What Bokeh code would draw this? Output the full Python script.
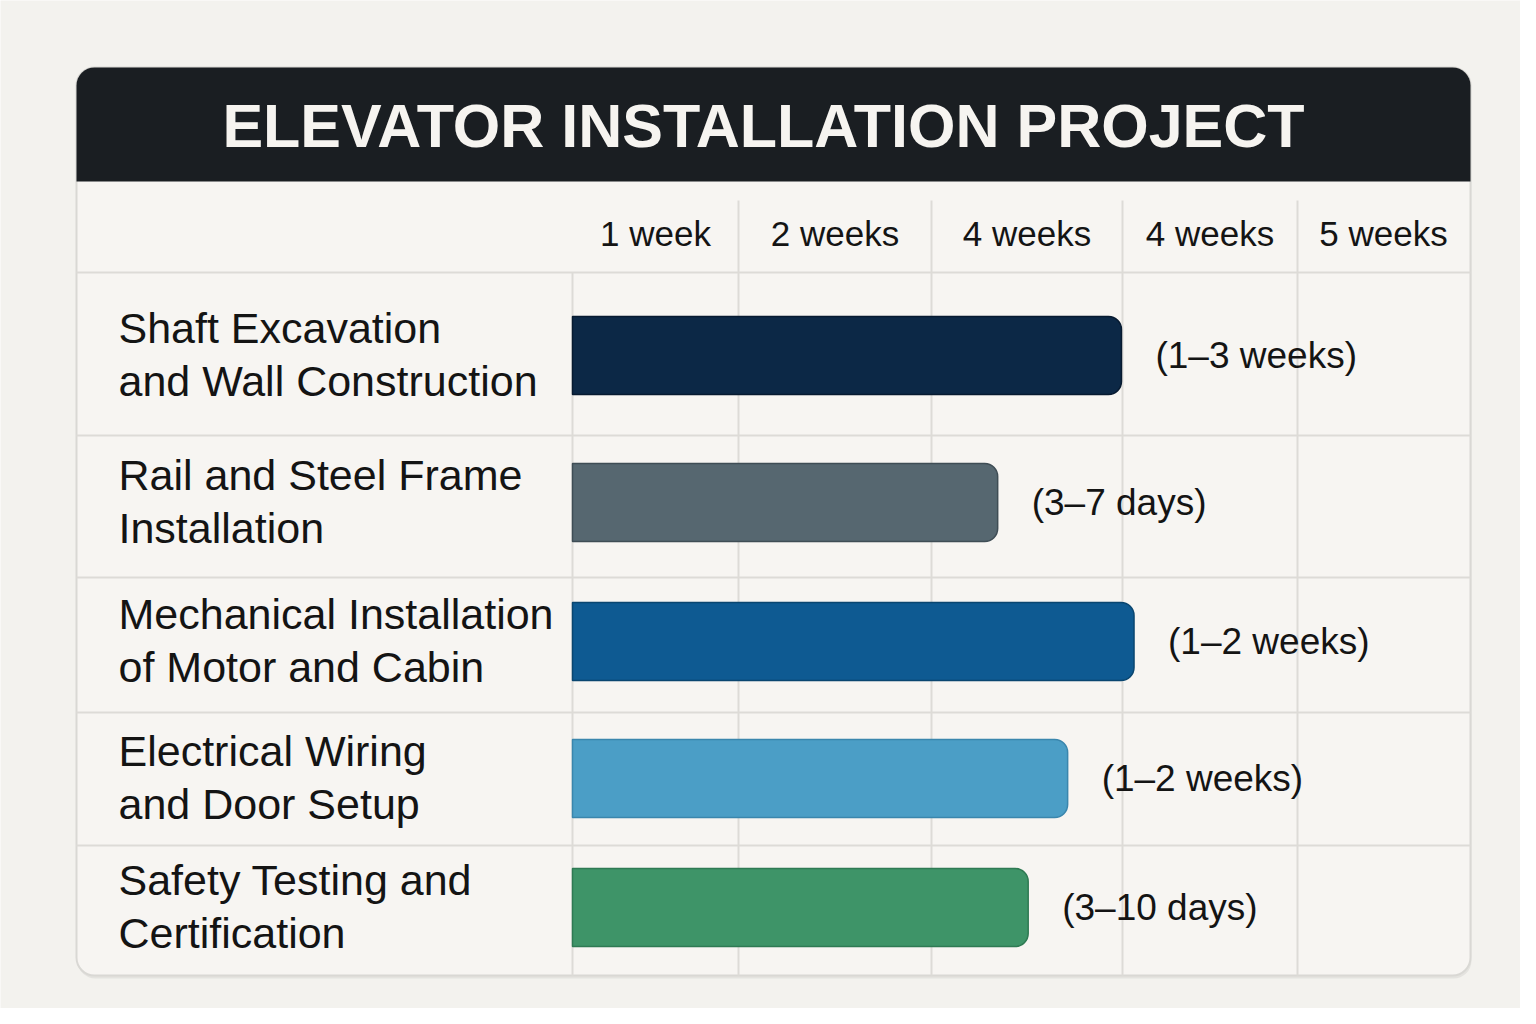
from bokeh.plotting import figure
from bokeh.models import Range1d, ColumnDataSource
from bokeh.core.properties import value
from bokeh.embed import file_html
from bokeh.resources import INLINE

# ---------------- data ----------------
title = "ELEVATOR INSTALLATION PROJECT"
tasks = [
    "Shaft Excavation\nand Wall Construction",
    "Rail and Steel Frame\nInstallation",
    "Mechanical Installation\nof Motor and Cabin",
    "Electrical Wiring\nand Door Setup",
    "Safety Testing and\nCertification",
]
durations = ["(1–3 weeks)", "(3–7 days)", "(1–2 weeks)", "(1–2 weeks)", "(3–10 days)"]
bar_weeks = [3.06, 2.37, 3.13, 2.76, 2.54]          # bar length in week units
header_labels = ["1 week", "2 weeks", "4 weeks", "4 weeks", "5 weeks"]
bar_colors = ["#0c2846", "#566770", "#0e5a92", "#4b9ec6", "#3e9468"]
bar_edges = ["#071a30", "#3f4d55", "#0a4670", "#3a86ad", "#2f7a53"]

# ---------------- layout (pixels; y stored negative) ----------------
W, H = 1520, 1008
FONT = "Liberation Sans"
card_l, card_r, card_t, card_b = 76, 1470, 67, 975
head_b = 181
col_edges = [572, 738, 931, 1122, 1297, 1469]
row_edges = [272, 435, 577, 712, 845]
row_centers = [355, 502, 641, 778, 907]
px_per_week = (1469 - 572) / 5.0

p = figure(width=W, height=H, output_backend="svg", toolbar_location=None,
           x_range=Range1d(0, W), y_range=Range1d(-H, 0),
           x_axis_location=None, y_axis_location=None, min_border=0)
p.extra_x_ranges = {"weeks": Range1d((0 - 572) / px_per_week, (W - 572) / px_per_week)}
p.grid.visible = False
p.outline_line_color = None
p.background_fill_color = "#f3f2ee"
p.border_fill_color = "#f3f2ee"

# card shadow + card
p.quad(left=[card_l + 1], right=[card_r + 1], top=[-card_t - 2], bottom=[-card_b - 3],
       fill_color="#e4e3df", line_color=None, border_radius=18)
p.quad(left=[card_l], right=[card_r], top=[-card_t], bottom=[-card_b],
       fill_color="#f7f5f2", line_color="#d9d8d4", line_width=2, border_radius=18)

# header bar
p.quad(left=[card_l], right=[card_r], top=[-card_t], bottom=[-head_b],
       fill_color="#1a1e22", line_color=None, border_radius=(18, 18, 0, 0))
p.text(x=[763], y=[-125], text=[title],
       text_font=value(FONT), text_font_style="bold", text_font_size="61px",
       text_color="#f6f4f0", text_align="center", text_baseline="middle")

# grid lines
grid_c = "#dddbd7"
p.segment(x0=[card_l] * len(row_edges), x1=[card_r] * len(row_edges),
          y0=[-y for y in row_edges], y1=[-y for y in row_edges],
          line_color=grid_c, line_width=2)
p.segment(x0=[col_edges[0]], x1=[col_edges[0]], y0=[-row_edges[0]], y1=[-card_b],
          line_color=grid_c, line_width=2)
inner = col_edges[1:-1]
p.segment(x0=inner, x1=inner, y0=[-200] * len(inner), y1=[-card_b] * len(inner),
          line_color=grid_c, line_width=2)

# header column labels
centers = [(a + b) / 2 for a, b in zip(col_edges[:-1], col_edges[1:])]
p.text(x=centers, y=[-233] * len(centers), text=header_labels,
       text_font=value(FONT), text_font_size="35px", text_color="#141414",
       text_align="center", text_baseline="middle")

# bars
src = ColumnDataSource(dict(y=[-c for c in row_centers], right=bar_weeks,
                            fill=bar_colors, edge=bar_edges, lab=durations, task=tasks,
                            ty=[-(c - 1) for c in row_centers]))
p.hbar(y="y", left=0, right="right", height=78, source=src, x_range_name="weeks",
       fill_color="fill", line_color="edge", line_width=1.5,
       border_radius=(0, 13, 13, 0))
p.text(x="right", y="y", text="lab", source=src, x_range_name="weeks", x_offset=34,
       text_font=value(FONT), text_font_size="37px", text_color="#141414",
       text_align="left", text_baseline="middle")

# task labels
p.text(x=118, y="ty", text="task", source=src,
       text_font=value(FONT), text_font_size="43px", text_color="#141414",
       text_align="left", text_baseline="middle", text_line_height=1.12)

open("out.html", "w").write(file_html(p, INLINE))
